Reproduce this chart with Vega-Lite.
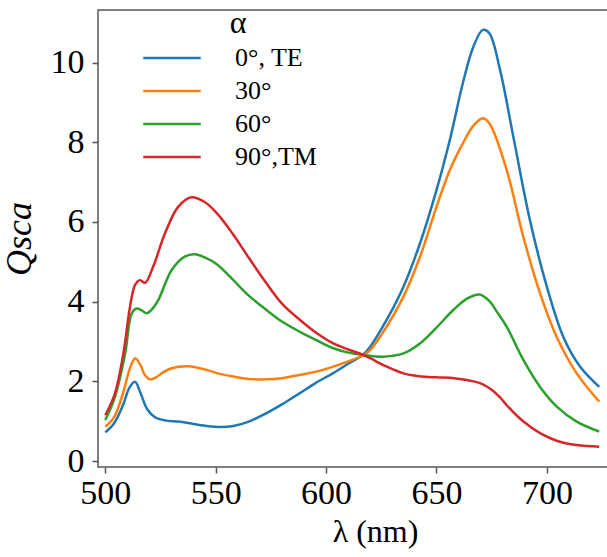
{
  "$schema": "https://vega.github.io/schema/vega-lite/v6.json",
  "autosize": "none",
  "padding": {"left": 98, "top": 10, "right": 0, "bottom": 90},
  "width": 554,
  "height": 457,
  "config": {
    "view": {"stroke": "#555", "strokeWidth": 1.5},
    "axis": {"grid": false, "domain": false, "tickColor": "#555", "tickWidth": 1.5, "tickSize": 6, "labelFont": "Liberation Serif", "labelFontSize": 34, "labelColor": "#000", "titleFont": "Liberation Serif", "titleColor": "#000", "titleFontWeight": "normal"}
  },
  "data": {"values": [
    {"l":500,"q":0.72,"s":"0°, TE"},{"l":504,"q":0.95,"s":"0°, TE"},{"l":508,"q":1.4,"s":"0°, TE"},{"l":511,"q":1.85,"s":"0°, TE"},{"l":513.5,"q":1.99,"s":"0°, TE"},{"l":516,"q":1.7,"s":"0°, TE"},{"l":519,"q":1.3,"s":"0°, TE"},{"l":522.5,"q":1.1,"s":"0°, TE"},{"l":527,"q":1.02,"s":"0°, TE"},{"l":533,"q":0.99,"s":"0°, TE"},{"l":540,"q":0.93,"s":"0°, TE"},{"l":546,"q":0.88,"s":"0°, TE"},{"l":552,"q":0.855,"s":"0°, TE"},{"l":558,"q":0.88,"s":"0°, TE"},{"l":565,"q":0.99,"s":"0°, TE"},{"l":573,"q":1.2,"s":"0°, TE"},{"l":580,"q":1.42,"s":"0°, TE"},{"l":588,"q":1.7,"s":"0°, TE"},{"l":595,"q":1.95,"s":"0°, TE"},{"l":603,"q":2.2,"s":"0°, TE"},{"l":610,"q":2.44,"s":"0°, TE"},{"l":617,"q":2.68,"s":"0°, TE"},{"l":620,"q":2.87,"s":"0°, TE"},{"l":627.4,"q":3.54,"s":"0°, TE"},{"l":635,"q":4.37,"s":"0°, TE"},{"l":642.5,"q":5.46,"s":"0°, TE"},{"l":650,"q":6.8,"s":"0°, TE"},{"l":656,"q":8.05,"s":"0°, TE"},{"l":662,"q":9.5,"s":"0°, TE"},{"l":666.7,"q":10.4,"s":"0°, TE"},{"l":671,"q":10.82,"s":"0°, TE"},{"l":674,"q":10.73,"s":"0°, TE"},{"l":678.8,"q":9.81,"s":"0°, TE"},{"l":684.8,"q":8.14,"s":"0°, TE"},{"l":692.3,"q":6.05,"s":"0°, TE"},{"l":700,"q":4.37,"s":"0°, TE"},{"l":707.4,"q":3.12,"s":"0°, TE"},{"l":715,"q":2.37,"s":"0°, TE"},{"l":723.7,"q":1.86,"s":"0°, TE"},
    {"l":500,"q":0.86,"s":"30°"},{"l":504,"q":1.1,"s":"30°"},{"l":508,"q":1.7,"s":"30°"},{"l":511,"q":2.3,"s":"30°"},{"l":513.5,"q":2.58,"s":"30°"},{"l":516,"q":2.4,"s":"30°"},{"l":518,"q":2.15,"s":"30°"},{"l":520.2,"q":2.05,"s":"30°"},{"l":523,"q":2.1,"s":"30°"},{"l":526,"q":2.22,"s":"30°"},{"l":530,"q":2.33,"s":"30°"},{"l":537.6,"q":2.38,"s":"30°"},{"l":545,"q":2.3,"s":"30°"},{"l":551,"q":2.2,"s":"30°"},{"l":558,"q":2.12,"s":"30°"},{"l":565,"q":2.06,"s":"30°"},{"l":573,"q":2.05,"s":"30°"},{"l":580,"q":2.08,"s":"30°"},{"l":588,"q":2.16,"s":"30°"},{"l":596,"q":2.25,"s":"30°"},{"l":603.3,"q":2.37,"s":"30°"},{"l":610,"q":2.5,"s":"30°"},{"l":617,"q":2.66,"s":"30°"},{"l":620,"q":2.79,"s":"30°"},{"l":627.4,"q":3.37,"s":"30°"},{"l":635,"q":4.12,"s":"30°"},{"l":642.5,"q":5.12,"s":"30°"},{"l":650,"q":6.38,"s":"30°"},{"l":656,"q":7.3,"s":"30°"},{"l":662,"q":7.98,"s":"30°"},{"l":666.5,"q":8.4,"s":"30°"},{"l":671,"q":8.6,"s":"30°"},{"l":674,"q":8.47,"s":"30°"},{"l":681.8,"q":7.3,"s":"30°"},{"l":689.3,"q":5.63,"s":"30°"},{"l":696.9,"q":4.21,"s":"30°"},{"l":704.4,"q":3.12,"s":"30°"},{"l":713.5,"q":2.2,"s":"30°"},{"l":723.7,"q":1.49,"s":"30°"},
    {"l":500,"q":1.03,"s":"60°"},{"l":504.4,"q":1.61,"s":"60°"},{"l":509,"q":2.7,"s":"60°"},{"l":512,"q":3.71,"s":"60°"},{"l":514.2,"q":3.83,"s":"60°"},{"l":516.5,"q":3.78,"s":"60°"},{"l":518.8,"q":3.71,"s":"60°"},{"l":521,"q":3.8,"s":"60°"},{"l":524,"q":4.04,"s":"60°"},{"l":530,"q":4.79,"s":"60°"},{"l":536,"q":5.13,"s":"60°"},{"l":540.6,"q":5.19,"s":"60°"},{"l":545,"q":5.11,"s":"60°"},{"l":550.5,"q":4.94,"s":"60°"},{"l":558,"q":4.54,"s":"60°"},{"l":565,"q":4.15,"s":"60°"},{"l":573,"q":3.79,"s":"60°"},{"l":580,"q":3.5,"s":"60°"},{"l":588.2,"q":3.24,"s":"60°"},{"l":596,"q":3.02,"s":"60°"},{"l":603.3,"q":2.83,"s":"60°"},{"l":610,"q":2.72,"s":"60°"},{"l":617,"q":2.66,"s":"60°"},{"l":626,"q":2.62,"s":"60°"},{"l":635,"q":2.7,"s":"60°"},{"l":642.5,"q":2.95,"s":"60°"},{"l":650,"q":3.35,"s":"60°"},{"l":657.6,"q":3.79,"s":"60°"},{"l":664,"q":4.08,"s":"60°"},{"l":669.5,"q":4.18,"s":"60°"},{"l":674.2,"q":4.0,"s":"60°"},{"l":677.3,"q":3.75,"s":"60°"},{"l":681.8,"q":3.37,"s":"60°"},{"l":689.4,"q":2.53,"s":"60°"},{"l":696.9,"q":1.86,"s":"60°"},{"l":704.6,"q":1.36,"s":"60°"},{"l":713.5,"q":0.99,"s":"60°"},{"l":723.7,"q":0.74,"s":"60°"},
    {"l":500,"q":1.15,"s":"90°,TM"},{"l":504.4,"q":1.7,"s":"90°,TM"},{"l":508.2,"q":2.7,"s":"90°,TM"},{"l":511.2,"q":3.87,"s":"90°,TM"},{"l":513.5,"q":4.42,"s":"90°,TM"},{"l":515.7,"q":4.54,"s":"90°,TM"},{"l":518,"q":4.47,"s":"90°,TM"},{"l":521.7,"q":4.88,"s":"90°,TM"},{"l":527,"q":5.71,"s":"90°,TM"},{"l":533,"q":6.38,"s":"90°,TM"},{"l":539,"q":6.62,"s":"90°,TM"},{"l":545,"q":6.5,"s":"90°,TM"},{"l":550.5,"q":6.22,"s":"90°,TM"},{"l":558,"q":5.68,"s":"90°,TM"},{"l":565,"q":5.1,"s":"90°,TM"},{"l":573,"q":4.46,"s":"90°,TM"},{"l":580,"q":3.95,"s":"90°,TM"},{"l":588.2,"q":3.54,"s":"90°,TM"},{"l":596,"q":3.2,"s":"90°,TM"},{"l":603.3,"q":2.95,"s":"90°,TM"},{"l":610,"q":2.8,"s":"90°,TM"},{"l":617,"q":2.66,"s":"90°,TM"},{"l":620,"q":2.58,"s":"90°,TM"},{"l":627,"q":2.38,"s":"90°,TM"},{"l":635,"q":2.2,"s":"90°,TM"},{"l":642,"q":2.13,"s":"90°,TM"},{"l":650,"q":2.1,"s":"90°,TM"},{"l":658,"q":2.08,"s":"90°,TM"},{"l":665,"q":2.02,"s":"90°,TM"},{"l":670,"q":1.95,"s":"90°,TM"},{"l":674.2,"q":1.82,"s":"90°,TM"},{"l":678.8,"q":1.6,"s":"90°,TM"},{"l":681.8,"q":1.4,"s":"90°,TM"},{"l":689.4,"q":0.99,"s":"90°,TM"},{"l":696.9,"q":0.7,"s":"90°,TM"},{"l":704.4,"q":0.51,"s":"90°,TM"},{"l":713.5,"q":0.4,"s":"90°,TM"},{"l":723.7,"q":0.36,"s":"90°,TM"}
  ]},
  "mark": {"type": "line", "interpolate": "catmull-rom", "strokeWidth": 2.5, "clip": true},
  "encoding": {
    "x": {"field": "l", "type": "quantitative", "scale": {"domain": [496.7, 747.6], "nice": false, "zero": false}, "axis": {"values": [500, 550, 600, 650, 700], "title": "λ (nm)", "titleFontSize": 32, "labelPadding": 3, "titlePadding": 6}},
    "y": {"field": "q", "type": "quantitative", "scale": {"domain": [-0.15, 11.32], "nice": false, "zero": false}, "axis": {"values": [0, 2, 4, 6, 8, 10], "title": "Qsca", "titleFontSize": 36, "titleFontStyle": "italic", "labelPadding": 8, "titlePadding": 12}},
    "color": {"field": "s", "type": "nominal", "sort": ["0°, TE", "30°", "60°", "90°,TM"],
      "scale": {"domain": ["0°, TE", "30°", "60°", "90°,TM"], "range": ["#1f77b4", "#ff7f0e", "#2ca02c", "#d62728"]},
      "legend": {"orient": "none", "legendX": 61, "legendY": -2, "title": "α", "titleFont": "Liberation Serif", "titleFontSize": 32, "titleFontWeight": "normal", "titleColor": "#000", "titleAnchor": "middle", "titlePadding": 5, "symbolType": "M-2.5,0H2.5", "symbolSize": 529, "symbolStrokeWidth": 2.5, "labelFont": "Liberation Serif", "labelFontSize": 26, "labelColor": "#000", "labelOffset": 50, "rowPadding": 7, "padding": 0, "labelLimit": 300}}
  }
}
